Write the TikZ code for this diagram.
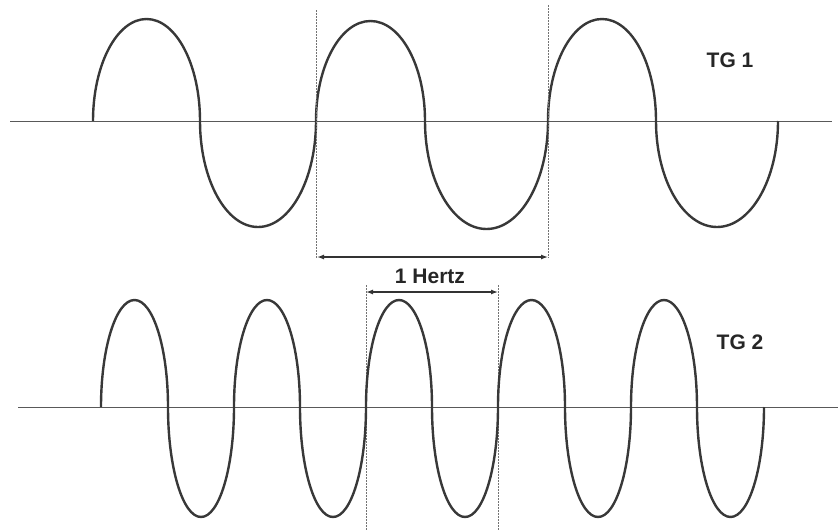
\documentclass[tikz,border=0pt]{standalone}
\usepackage{fontspec}
\setmainfont{Liberation Sans}
\usetikzlibrary{arrows.meta}
\begin{document}
\begin{tikzpicture}[x=1pt,y=-1pt,
  wave/.style={draw=black!78,line width=2.4pt,line join=round},
  axisline/.style={draw=black!65,line width=1pt},
  guide/.style={draw=black!55,line width=0.8pt,dash pattern=on 1.5pt off 1.5pt},
  span/.style={draw=black!80,line width=1.3pt,{Latex[length=7pt,width=5pt]}-{Latex[length=7pt,width=5pt]}},
  lbl/.style={font=\bfseries\fontsize{21}{24}\selectfont,text=black!85,inner sep=0pt}]
\useasboundingbox (0,0) rectangle (838,530);
% TG1
\coordinate (a1l) at (10,121);
\coordinate (a1r) at (832,121);
\draw[axisline] (a1l) -- (a1r);
\draw[wave] (93,121)
  arc[start angle=180,end angle=0,x radius=53.5pt,y radius=102pt]
  arc[start angle=180,end angle=360,x radius=58pt,y radius=106pt]
  arc[start angle=180,end angle=0,x radius=54.5pt,y radius=100pt]
  arc[start angle=180,end angle=360,x radius=61.5pt,y radius=108pt]
  arc[start angle=180,end angle=0,x radius=54pt,y radius=102pt]
  arc[start angle=180,end angle=360,x radius=61pt,y radius=106pt];
\node[lbl] (tg1) at (730,60) {TG 1};
% TG1 guides
\coordinate (g1t) at (316,10);
\coordinate (g1b) at (316,258);
\coordinate (g2t) at (548,5);
\coordinate (g2b) at (548,258);
\draw[guide] (g1t) -- (g1b);
\draw[guide] (g2t) -- (g2b);
\coordinate (s1l) at (317,257);
\coordinate (s1r) at (548,257);
\draw[span] (s1l) -- (s1r);
\node[lbl] (hz) at (430,276) {1 Hertz};
% TG2
\coordinate (g3t) at (366,285);
\coordinate (g3b) at (366,530);
\coordinate (g4t) at (498,285);
\coordinate (g4b) at (498,530);
\draw[guide] (g3t) -- (g3b);
\draw[guide] (g4t) -- (g4b);
\coordinate (s2l) at (366,292);
\coordinate (s2r) at (498,292);
\draw[span] (s2l) -- (s2r);
\coordinate (a2l) at (18,407);
\coordinate (a2r) at (838,407);
\draw[axisline] (a2l) -- (a2r);
\draw[wave] (101,407)
  arc[start angle=180,end angle=0,x radius=33.5pt,y radius=107pt]
  arc[start angle=180,end angle=360,x radius=33pt,y radius=110pt]
  arc[start angle=180,end angle=0,x radius=33pt,y radius=107pt]
  arc[start angle=180,end angle=360,x radius=33pt,y radius=110pt]
  arc[start angle=180,end angle=0,x radius=33pt,y radius=107pt]
  arc[start angle=180,end angle=360,x radius=33pt,y radius=110pt]
  arc[start angle=180,end angle=0,x radius=33.5pt,y radius=107pt]
  arc[start angle=180,end angle=360,x radius=33pt,y radius=110pt]
  arc[start angle=180,end angle=0,x radius=33pt,y radius=107pt]
  arc[start angle=180,end angle=360,x radius=33.5pt,y radius=110pt];
\node[lbl] (tg2) at (740,342) {TG 2};
\end{tikzpicture}
\end{document}
